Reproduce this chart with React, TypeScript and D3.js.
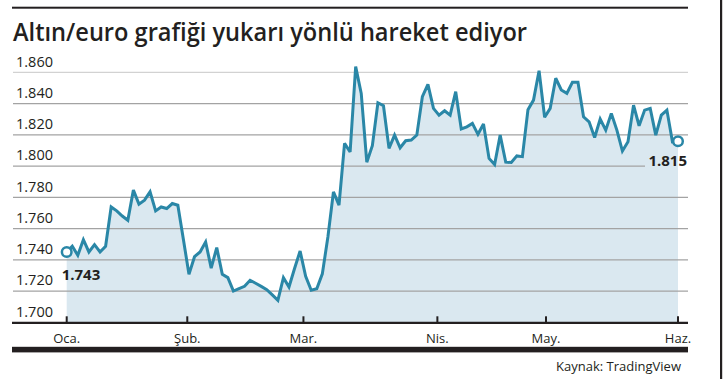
import React from 'react';
import * as d3 from 'd3';

const title = 'Altın/euro grafiği yukarı yönlü hareket ediyor';
const source = 'Kaynak: TradingView';

// Altın/euro closes (index = trading day from start of January)
const values: number[] = [
  1.745, 1.7487, 1.7429, 1.7529, 1.745, 1.7497, 1.745, 1.7487, 1.7738, 1.7713,
  1.768, 1.7653, 1.7846, 1.7756, 1.7782, 1.7835, 1.7713, 1.7738, 1.7728, 1.776,
  1.7749, 1.753, 1.7307, 1.742, 1.745, 1.7514, 1.7347, 1.7478, 1.7307, 1.7286,
  1.72, 1.7215, 1.723, 1.7269, 1.725, 1.723, 1.7209, 1.7175, 1.714, 1.7286,
  1.7226, 1.7344, 1.7456, 1.7294, 1.7205, 1.7215, 1.731, 1.7546, 1.7835, 1.775,
  1.8145, 1.809, 1.8636, 1.8465, 1.8025, 1.813, 1.8405, 1.8386, 1.8113, 1.8198,
  1.8117, 1.8162, 1.8166, 1.8198, 1.8444, 1.8523, 1.8369, 1.8326, 1.8354, 1.8326,
  1.8476, 1.8237, 1.8251, 1.8273, 1.8203, 1.8269, 1.8049, 1.801, 1.8198, 1.8025,
  1.8023, 1.8065, 1.806, 1.836, 1.8422, 1.861, 1.8312, 1.8369, 1.8562, 1.8487,
  1.8465, 1.8536, 1.8536, 1.8315, 1.8283, 1.8183, 1.8301, 1.823, 1.8337, 1.823,
  1.8096, 1.8155, 1.839, 1.8258, 1.8358, 1.8369, 1.8198, 1.8326, 1.8358, 1.8155,
  1.8159,
];

const startLabel = '1.743';
const endLabel = '1.815';

const yTicks = [1.7, 1.72, 1.74, 1.76, 1.78, 1.8, 1.82, 1.84, 1.86];
const yTickLabels = ['1.700', '1.720', '1.740', '1.760', '1.780', '1.800', '1.820', '1.840', '1.860'];

const monthLabels = ['Oca.', 'Şub.', 'Mar.', 'Nis.', 'May.', 'Haz.'];
const monthIndex = [0, 21.7, 42.6, 66.7, 86.25, 110];

const W = 724;
const H = 379;
const FONT = "'Open Sans', 'DejaVu Sans', sans-serif";
const LINE = '#2a87a7';
const FILL = '#dae8f0';
const INK = '#231f20';

export default function App() {
  const left = 13;
  const right = 688;
  const x = d3.scaleLinear().domain([0, values.length - 1]).range([66.7, 678]);
  const y = d3.scaleLinear().domain([1.7, 1.86]).range([322.3, 72.3]);

  const line = d3
    .line<number>()
    .x((_, i) => x(i))
    .y((d) => y(d));
  const area = d3
    .area<number>()
    .x((_, i) => x(i))
    .y0(y(1.7))
    .y1((d) => y(d));

  const last = values.length - 1;
  const endLabelRight = 687;
  const endLabelBaseline = 165.7;

  return (
    <svg
      width={W}
      height={H}
      viewBox={`0 0 ${W} ${H}`}
      style={{ position: 'fixed', left: 0, top: 0, background: '#fff' }}
    >
      <rect x={0} y={0} width={W} height={H} fill="#fff" />
      {/* top rule */}
      <rect x={left - 1} y={6.7} width={right - left + 1} height={2} fill={INK} />
      {/* right frame */}
      <rect x={720} y={0} width={2.2} height={H} fill={INK} />

      <text
        x={left}
        y={41}
        fontFamily={FONT}
        fontWeight={600}
        fontSize={25}
        fill={INK}
        textLength={514}
        lengthAdjust="spacingAndGlyphs"
      >
        {title}
      </text>

      {/* area */}
      <path d={area(values) || ''} fill={FILL} />

      {/* gridlines */}
      {yTicks.slice(1).map((v, i) => (
        <line
          key={v}
          x1={left}
          x2={Math.abs(v - 1.8) < 1e-6 ? endLabelRight - 42 : right}
          y1={y(v)}
          y2={y(v)}
          stroke={i === yTicks.length - 2 ? '#d2d2d2' : '#a3a3a3'}
          strokeWidth={1.2}
        />
      ))}

      {/* y labels */}
      {yTicks.map((v, i) => (
        <text
          key={'yl' + v}
          x={16}
          y={y(v) - 5.6}
          fontFamily={FONT}
          fontSize={14.5}
          fill={INK}
        >
          {yTickLabels[i]}
        </text>
      ))}

      {/* line */}
      <path
        d={line(values) || ''}
        fill="none"
        stroke={LINE}
        strokeWidth={3}
        strokeLinejoin="miter"
        strokeMiterlimit={3}
      />

      {/* end markers */}
      <circle cx={x(0)} cy={y(values[0])} r={4.8} fill="#fff" stroke={LINE} strokeWidth={2.5} />
      <circle cx={x(last)} cy={y(values[last])} r={4.8} fill="#fff" stroke={LINE} strokeWidth={2.5} />

      <text x={61.7} y={280} fontFamily={FONT} fontWeight={700} fontSize={15} fill={INK}>
        {startLabel}
      </text>
      <text
        x={endLabelRight}
        y={endLabelBaseline}
        textAnchor="end"
        fontFamily={FONT}
        fontWeight={700}
        fontSize={15}
        fill={INK}
      >
        {endLabel}
      </text>

      {/* x axis */}
      <line x1={left - 1} x2={right} y1={y(1.7) + 0.6} y2={y(1.7) + 0.6} stroke={INK} strokeWidth={2.2} />
      {monthIndex.map((m, i) => (
        <g key={monthLabels[i]}>
          <line x1={x(m)} x2={x(m)} y1={y(1.7) - 6} y2={y(1.7)} stroke={INK} strokeWidth={2} />
          <text
            x={x(m)}
            y={342.7}
            textAnchor="middle"
            fontFamily={FONT}
            fontSize={13}
            fill={INK}
          >
            {monthLabels[i]}
          </text>
        </g>
      ))}

      {/* bottom rule */}
      <rect x={left - 1} y={346.8} width={right - left + 1} height={5.6} fill={INK} />

      <text x={681} y={370.5} textAnchor="end" fontFamily={FONT} fontSize={13} fill={INK}>
        {source}
      </text>
    </svg>
  );
}
